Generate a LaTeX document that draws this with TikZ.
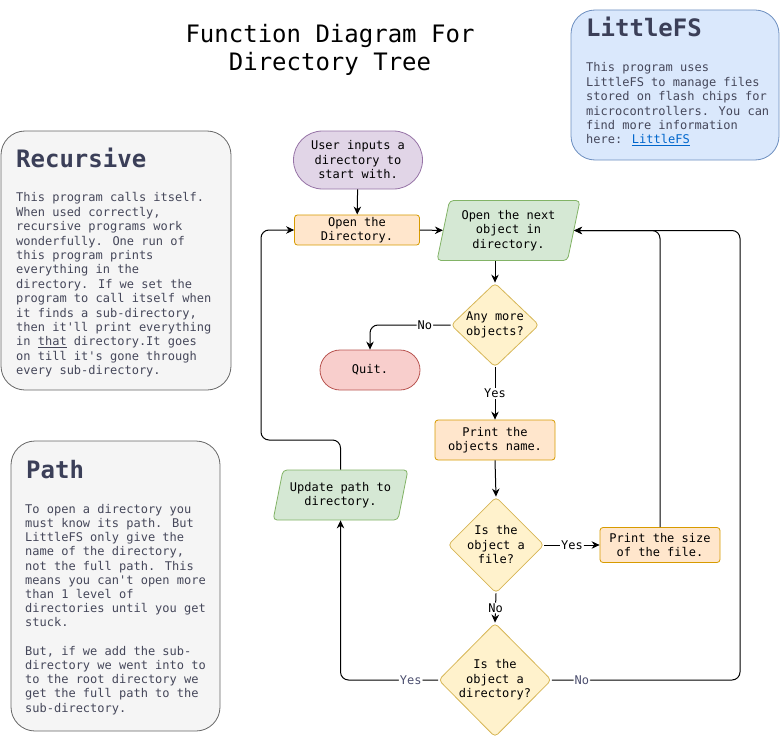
\documentclass[tikz,border=0pt]{standalone}
\usepackage{fontspec}
\newfontfamily\monof{DejaVu Sans Mono}
\usetikzlibrary{shapes.geometric,arrows.meta}
\definecolor{purpfill}{HTML}{E1D5E7}\definecolor{purpdraw}{HTML}{9673A6}
\definecolor{orfill}{HTML}{FFE6CC}\definecolor{ordraw}{HTML}{D79B00}
\definecolor{grfill}{HTML}{D5E8D4}\definecolor{grdraw}{HTML}{82B366}
\definecolor{yfill}{HTML}{FFF2CC}\definecolor{ydraw}{HTML}{D6B656}
\definecolor{rfill}{HTML}{F8CECC}\definecolor{rdraw}{HTML}{B85450}
\definecolor{bfill}{HTML}{DAE8FC}\definecolor{bdraw}{HTML}{6C8EBF}
\definecolor{gyfill}{HTML}{F5F5F5}\definecolor{gydraw}{HTML}{666666}
\definecolor{slate}{HTML}{3B3F58}\definecolor{bodytxt}{HTML}{45475A}
\definecolor{labslate}{HTML}{4D5070}\definecolor{linkblue}{HTML}{0066CC}
\tikzset{
  flowfont/.style={font=\monof\fontsize{12}{14.5}\selectfont},
  base/.style={flowfont, align=center, line width=0.8pt, inner sep=2pt},
  proc/.style={base, rectangle, rounded corners=3pt, fill=orfill, draw=ordraw},
  term/.style={base, rectangle},
  decis/.style={base, diamond, fill=yfill, draw=ydraw, rounded corners=4pt, inner sep=0pt},
  iobox/.style={base, trapezium, trapezium stretches=true, fill=grfill, draw=grdraw, rounded corners=4pt},
  infobox/.style={rectangle, rounded corners=24pt, line width=0.8pt},
  ttl/.style={anchor=base west, inner sep=0pt, text=slate, font=\monof\fontsize{24}{28}\selectfont\bfseries},
  body/.style={anchor=north west, inner sep=0pt, text=bodytxt, align=left, font=\monof\fontsize{12}{14.4}\selectfont},
  arr/.style={-{Stealth[length=8pt,width=7.5pt]}, line width=1pt, rounded corners=8pt},
  lab/.style={flowfont, fill=white, inner sep=1pt, text=black},
  labs/.style={lab, text=labslate}
}
\begin{document}
\begin{tikzpicture}[x=1pt,y=-1pt]
\useasboundingbox (0,0) rectangle (781,741);

% title
\node[align=center, font=\monof\fontsize{24}{28}\selectfont] (title) at (330,50) {Function Diagram For\\Directory Tree};

% info boxes
\node[infobox, fill=bfill, draw=bdraw, minimum width=208, minimum height=150] (lfs) at (675,85) {};
\node[ttl] (lfst) at (586,37) {LittleFS};
\node[body] (lfsb) at (586,62.5) {This program uses\\LittleFS to manage files\\stored on flash chips for\\microcontrollers. You can\\find more information\\here: \textcolor{linkblue}{\underline{LittleFS}}};

\node[infobox, fill=gyfill, draw=gydraw, minimum width=230, minimum height=259] (rec) at (116,260.5) {};
\node[ttl] (rect) at (16,167) {Recursive};
\node[body] (recb) at (16,192.5) {This program calls itself.\\When used correctly,\\recursive programs work\\wonderfully. One run of\\this program prints\\everything in the\\directory. If we set the\\program to call itself when\\it finds a sub-directory,\\then it'll print everything\\in \underline{that} directory.It goes\\on till it's gone through\\every sub-directory.};

\node[infobox, fill=gyfill, draw=gydraw, minimum width=209, minimum height=290] (path) at (115.5,586) {};
\node[ttl] (patht) at (26,478) {Path};
\node[body, font=\monof\fontsize{12}{14.2}\selectfont] (pathb) at (25,504) {To open a directory you\\must know its path. But\\LittleFS only give the\\name of the directory,\\not the full path. This\\means you can't open more\\than 1 level of\\directories until you get\\stuck.\\\mbox{}\\But, if we add the sub-\\directory we went into to\\to the root directory we\\get the full path to the\\sub-directory.};

% flowchart nodes
\node[term, fill=purpfill, draw=purpdraw, rounded corners=29pt, minimum width=129, minimum height=58] (start) at (358,160) {User inputs a\\directory to\\start with.};
\node[proc, minimum width=125, minimum height=30] (opendir) at (357,230) {Open the\\Directory.};
\node[iobox, trapezium left angle=76.9, trapezium right angle=103.1, minimum width=143, minimum height=60] (next) at (508.5,230.5) {Open the next\\object in\\directory.};
\node[decis, minimum width=88, minimum height=84] (anymore) at (495,325) {Any more\\objects?};
\node[term, fill=rfill, draw=rdraw, rounded corners=20pt, minimum width=100, minimum height=40] (quit) at (370,370) {Quit.};
\node[proc, minimum width=120, minimum height=40] (printname) at (495,440) {Print the\\objects name.};
\node[decis, minimum width=88, minimum height=85] (isfile) at (496,545) {Is the\\object a\\file?};
\node[proc, minimum width=120, minimum height=35] (printsize) at (660,545) {Print the size\\of the file.};
\node[decis, minimum width=110, minimum height=114] (isdir) at (495,680) {Is the\\object a\\directory?};
\node[iobox, trapezium left angle=73.3, trapezium right angle=106.7, minimum width=135, minimum height=50] (update) at (340.5,495) {Update path to\\directory.};

\coordinate (rr) at (740,680);
\coordinate (lp) at (261,440);

% connectors
\draw[arr] (start) -- (opendir);
\draw[arr] (opendir) -- (next);
\draw[arr] (anymore.north |- next.south) -- (anymore.north);
\draw[arr] (anymore.west) -| node[lab, pos=0.16] {No} (quit.north);
\draw[arr] (anymore.south) -- node[lab] {Yes} (printname.north);
\draw[arr] (printname.south) -- (isfile.north);
\draw[arr] (isfile.east) -- node[lab] {Yes} (printsize.west);
\draw[arr] (isfile.south) -- node[lab] {No} (isdir.north);
\draw[arr] (printsize.north) |- (next.east);
\draw[arr] (isdir.east) -- node[labs, pos=0.16] {No} (rr) |- (next.east);
\draw[arr] (isdir.west) -| node[labs, pos=0.14] {Yes} (update.south);
\draw[arr] (update.north) |- (lp) |- (opendir.west);
\end{tikzpicture}
\end{document}
